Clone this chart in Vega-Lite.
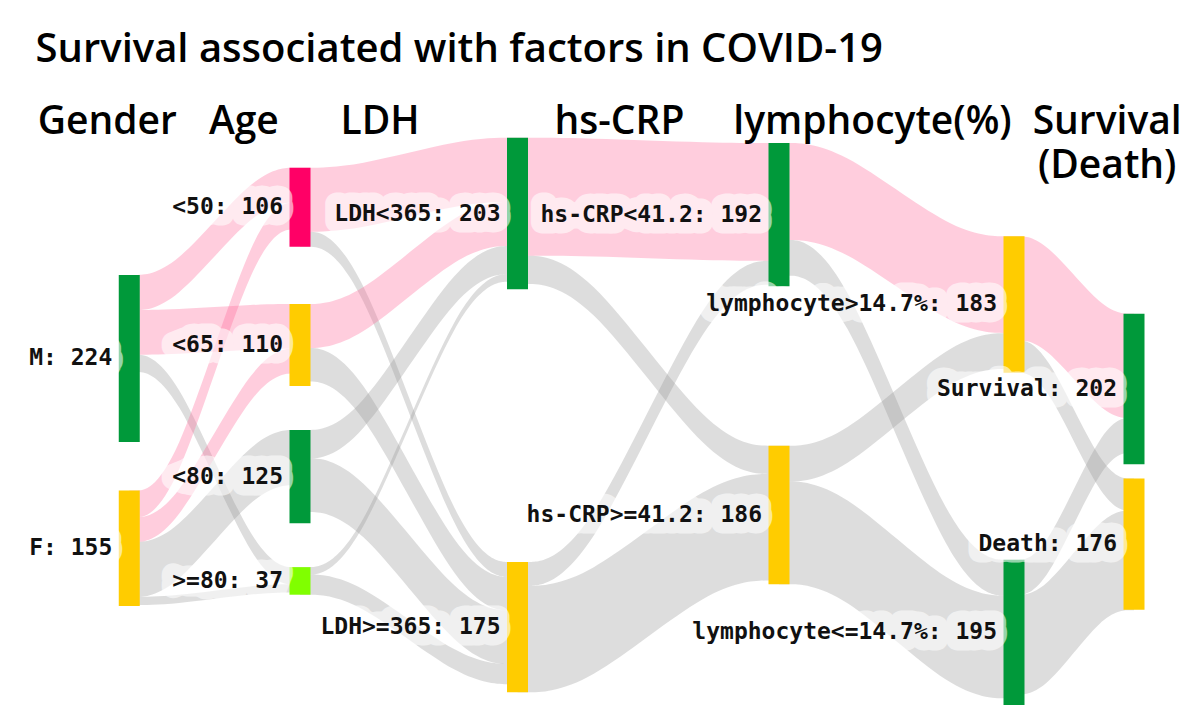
{
  "$schema": "https://vega.github.io/schema/vega-lite/v6.json",
  "width": 1200,
  "height": 708,
  "padding": 0,
  "autosize": {"type": "none"},
  "background": "white",
  "config": {"view": {"stroke": null}},
  "datasets": {
    "links": [
      {"link": "L03", "path": "other", "x": 0, "y0": 291, "y1": 314},
      {"link": "L03", "path": "other", "x": 0.25, "y0": 291, "y1": 314},
      {"link": "L03", "path": "other", "x": 0.75, "y0": 576, "y1": 599},
      {"link": "L03", "path": "other", "x": 1, "y0": 576, "y1": 599},
      {"link": "L06", "path": "other", "x": 0, "y0": 542, "y1": 616},
      {"link": "L06", "path": "other", "x": 0.25, "y0": 542, "y1": 616},
      {"link": "L06", "path": "other", "x": 0.75, "y0": 392, "y1": 466},
      {"link": "L06", "path": "other", "x": 1, "y0": 392, "y1": 466},
      {"link": "L07", "path": "other", "x": 0, "y0": 616, "y1": 627},
      {"link": "L07", "path": "other", "x": 0.25, "y0": 616, "y1": 627},
      {"link": "L07", "path": "other", "x": 0.75, "y0": 599, "y1": 610},
      {"link": "L07", "path": "other", "x": 1, "y0": 599, "y1": 610},
      {"link": "L09", "path": "other", "x": 1, "y0": 126, "y1": 146},
      {"link": "L09", "path": "other", "x": 1.25, "y0": 126, "y1": 146},
      {"link": "L09", "path": "other", "x": 1.75, "y0": 569, "y1": 589},
      {"link": "L09", "path": "other", "x": 2, "y0": 569, "y1": 589},
      {"link": "L11", "path": "other", "x": 1, "y0": 282, "y1": 327},
      {"link": "L11", "path": "other", "x": 1.25, "y0": 282, "y1": 327},
      {"link": "L11", "path": "other", "x": 1.75, "y0": 589, "y1": 634},
      {"link": "L11", "path": "other", "x": 2, "y0": 589, "y1": 634},
      {"link": "L12", "path": "other", "x": 1, "y0": 392, "y1": 430},
      {"link": "L12", "path": "other", "x": 1.25, "y0": 392, "y1": 430},
      {"link": "L12", "path": "other", "x": 1.75, "y0": 145, "y1": 183},
      {"link": "L12", "path": "other", "x": 2, "y0": 145, "y1": 183},
      {"link": "L13", "path": "other", "x": 1, "y0": 430, "y1": 502},
      {"link": "L13", "path": "other", "x": 1.25, "y0": 430, "y1": 502},
      {"link": "L13", "path": "other", "x": 1.75, "y0": 634, "y1": 706},
      {"link": "L13", "path": "other", "x": 2, "y0": 634, "y1": 706},
      {"link": "L14", "path": "other", "x": 1, "y0": 576, "y1": 586},
      {"link": "L14", "path": "other", "x": 1.25, "y0": 576, "y1": 586},
      {"link": "L14", "path": "other", "x": 1.75, "y0": 183, "y1": 193},
      {"link": "L14", "path": "other", "x": 2, "y0": 183, "y1": 193},
      {"link": "L15", "path": "other", "x": 1, "y0": 586, "y1": 613},
      {"link": "L15", "path": "other", "x": 1.25, "y0": 586, "y1": 613},
      {"link": "L15", "path": "other", "x": 1.75, "y0": 706, "y1": 733},
      {"link": "L15", "path": "other", "x": 2, "y0": 706, "y1": 733},
      {"link": "L17", "path": "other", "x": 2, "y0": 158, "y1": 196},
      {"link": "L17", "path": "other", "x": 2.25, "y0": 158, "y1": 196},
      {"link": "L17", "path": "other", "x": 2.75, "y0": 413, "y1": 451},
      {"link": "L17", "path": "other", "x": 3, "y0": 413, "y1": 451},
      {"link": "L18", "path": "other", "x": 2, "y0": 569, "y1": 601},
      {"link": "L18", "path": "other", "x": 2.25, "y0": 569, "y1": 601},
      {"link": "L18", "path": "other", "x": 2.75, "y0": 165, "y1": 197},
      {"link": "L18", "path": "other", "x": 3, "y0": 165, "y1": 197},
      {"link": "L19", "path": "other", "x": 2, "y0": 601, "y1": 744},
      {"link": "L19", "path": "other", "x": 2.25, "y0": 601, "y1": 744},
      {"link": "L19", "path": "other", "x": 2.75, "y0": 451, "y1": 594},
      {"link": "L19", "path": "other", "x": 3, "y0": 451, "y1": 594},
      {"link": "L21", "path": "other", "x": 3, "y0": 137, "y1": 185},
      {"link": "L21", "path": "other", "x": 3.25, "y0": 137, "y1": 185},
      {"link": "L21", "path": "other", "x": 3.75, "y0": 566, "y1": 614},
      {"link": "L21", "path": "other", "x": 4, "y0": 566, "y1": 614},
      {"link": "L22", "path": "other", "x": 3, "y0": 413, "y1": 461},
      {"link": "L22", "path": "other", "x": 3.25, "y0": 413, "y1": 461},
      {"link": "L22", "path": "other", "x": 3.75, "y0": 262, "y1": 310},
      {"link": "L22", "path": "other", "x": 4, "y0": 262, "y1": 310},
      {"link": "L23", "path": "other", "x": 3, "y0": 461, "y1": 599},
      {"link": "L23", "path": "other", "x": 3.25, "y0": 461, "y1": 599},
      {"link": "L23", "path": "other", "x": 3.75, "y0": 614, "y1": 752},
      {"link": "L23", "path": "other", "x": 4, "y0": 614, "y1": 752},
      {"link": "L25", "path": "other", "x": 4, "y0": 272, "y1": 315},
      {"link": "L25", "path": "other", "x": 4.25, "y0": 272, "y1": 315},
      {"link": "L25", "path": "other", "x": 4.75, "y0": 457, "y1": 500},
      {"link": "L25", "path": "other", "x": 5, "y0": 457, "y1": 500},
      {"link": "L26", "path": "other", "x": 4, "y0": 566, "y1": 613},
      {"link": "L26", "path": "other", "x": 4.25, "y0": 566, "y1": 613},
      {"link": "L26", "path": "other", "x": 4.75, "y0": 376, "y1": 423},
      {"link": "L26", "path": "other", "x": 5, "y0": 376, "y1": 423},
      {"link": "L27", "path": "other", "x": 4, "y0": 613, "y1": 747},
      {"link": "L27", "path": "other", "x": 4.25, "y0": 613, "y1": 747},
      {"link": "L27", "path": "other", "x": 4.75, "y0": 500, "y1": 634},
      {"link": "L27", "path": "other", "x": 5, "y0": 500, "y1": 634},
      {"link": "L01", "path": "highlight", "x": 0, "y0": 184, "y1": 231},
      {"link": "L01", "path": "highlight", "x": 0.25, "y0": 184, "y1": 231},
      {"link": "L01", "path": "highlight", "x": 0.75, "y0": 40, "y1": 87},
      {"link": "L01", "path": "highlight", "x": 1, "y0": 40, "y1": 87},
      {"link": "L02", "path": "highlight", "x": 0, "y0": 231, "y1": 291},
      {"link": "L02", "path": "highlight", "x": 0.25, "y0": 231, "y1": 291},
      {"link": "L02", "path": "highlight", "x": 0.75, "y0": 223, "y1": 283},
      {"link": "L02", "path": "highlight", "x": 1, "y0": 223, "y1": 283},
      {"link": "L04", "path": "highlight", "x": 0, "y0": 473, "y1": 509},
      {"link": "L04", "path": "highlight", "x": 0.25, "y0": 473, "y1": 509},
      {"link": "L04", "path": "highlight", "x": 0.75, "y0": 87, "y1": 123},
      {"link": "L04", "path": "highlight", "x": 1, "y0": 87, "y1": 123},
      {"link": "L05", "path": "highlight", "x": 0, "y0": 509, "y1": 542},
      {"link": "L05", "path": "highlight", "x": 0.25, "y0": 509, "y1": 542},
      {"link": "L05", "path": "highlight", "x": 0.75, "y0": 283, "y1": 316},
      {"link": "L05", "path": "highlight", "x": 1, "y0": 283, "y1": 316},
      {"link": "L08", "path": "highlight", "x": 1, "y0": 40, "y1": 126},
      {"link": "L08", "path": "highlight", "x": 1.25, "y0": 40, "y1": 126},
      {"link": "L08", "path": "highlight", "x": 1.75, "y0": 0, "y1": 86},
      {"link": "L08", "path": "highlight", "x": 2, "y0": 0, "y1": 86},
      {"link": "L10", "path": "highlight", "x": 1, "y0": 223, "y1": 282},
      {"link": "L10", "path": "highlight", "x": 1.25, "y0": 223, "y1": 282},
      {"link": "L10", "path": "highlight", "x": 1.75, "y0": 86, "y1": 145},
      {"link": "L10", "path": "highlight", "x": 2, "y0": 86, "y1": 145},
      {"link": "L16", "path": "highlight", "x": 2, "y0": 0, "y1": 158},
      {"link": "L16", "path": "highlight", "x": 2.25, "y0": 0, "y1": 158},
      {"link": "L16", "path": "highlight", "x": 2.75, "y0": 7, "y1": 165},
      {"link": "L16", "path": "highlight", "x": 3, "y0": 7, "y1": 165},
      {"link": "L20", "path": "highlight", "x": 3, "y0": 7, "y1": 137},
      {"link": "L20", "path": "highlight", "x": 3.25, "y0": 7, "y1": 137},
      {"link": "L20", "path": "highlight", "x": 3.75, "y0": 132, "y1": 262},
      {"link": "L20", "path": "highlight", "x": 4, "y0": 132, "y1": 262},
      {"link": "L24", "path": "highlight", "x": 4, "y0": 132, "y1": 272},
      {"link": "L24", "path": "highlight", "x": 4.25, "y0": 132, "y1": 272},
      {"link": "L24", "path": "highlight", "x": 4.75, "y0": 236, "y1": 376},
      {"link": "L24", "path": "highlight", "x": 5, "y0": 236, "y1": 376}
    ],
    "nodes": [
      {"node": "M", "stage": 0, "y0": 184, "y1": 408, "ymid": 296, "label": "M: 224"},
      {"node": "F", "stage": 0, "y0": 473, "y1": 628, "ymid": 550.5, "label": "F: 155"},
      {"node": "<50", "stage": 1, "y0": 40, "y1": 146, "ymid": 93, "label": "<50: 106"},
      {"node": "<65", "stage": 1, "y0": 223, "y1": 333, "ymid": 278, "label": "<65: 110"},
      {"node": "<80", "stage": 1, "y0": 392, "y1": 517, "ymid": 454.5, "label": "<80: 125"},
      {"node": ">=80", "stage": 1, "y0": 576, "y1": 613, "ymid": 594.5, "label": ">=80: 37"},
      {"node": "LDH<365", "stage": 2, "y0": 0, "y1": 203, "ymid": 101.5, "label": "LDH<365: 203"},
      {"node": "LDH>=365", "stage": 2, "y0": 569, "y1": 744, "ymid": 656.5, "label": "LDH>=365: 175"},
      {"node": "hs-CRP<41.2", "stage": 3, "y0": 7, "y1": 199, "ymid": 103, "label": "hs-CRP<41.2: 192"},
      {"node": "hs-CRP>=41.2", "stage": 3, "y0": 413, "y1": 599, "ymid": 506, "label": "hs-CRP>=41.2: 186"},
      {"node": "lymphocyte>14.7%", "stage": 4, "y0": 132, "y1": 315, "ymid": 223.5, "label": "lymphocyte>14.7%: 183"},
      {"node": "lymphocyte<=14.7%", "stage": 4, "y0": 566, "y1": 761, "ymid": 663.5, "label": "lymphocyte<=14.7%: 195"},
      {"node": "Survival", "stage": 5, "y0": 236, "y1": 438, "ymid": 337, "label": "Survival: 202"},
      {"node": "Death", "stage": 5, "y0": 457, "y1": 633, "ymid": 545, "label": "Death: 176"}
    ],
    "title": [
      {"text": "Survival associated with factors in COVID-19", "x": -0.5486, "y": -101.8}
    ],
    "headers": [
      {"text": "Gender", "x": -0.1286, "y": -5.2},
      {"text": "Age", "x": 0.6714, "y": -5.2},
      {"text": "LDH", "x": 1.3678, "y": -5.2},
      {"text": "hs-CRP", "x": 2.3901, "y": -5.2},
      {"text": "lymphocyte(%)", "x": 3.3979, "y": -5.2},
      {"text": "Survival\n(Death)", "x": 4.7765, "y": -5.2}
    ]
  },
  "layer": [
    {
      "data": {"name": "links"},
      "mark": {"type": "area", "interpolate": "basis", "opacity": 0.33},
      "encoding": {
        "x": {"field": "x", "type": "quantitative", "scale": {"domain": [0, 1, 2, 3, 4, 5], "range": [125, 300, 517.5, 779, 1014, 1137], "nice": false, "zero": false}, "axis": null},
        "y": {"field": "y0", "type": "quantitative", "scale": {"domain": [-185, 765], "reverse": true, "nice": false, "zero": false}, "axis": null},
        "y2": {"field": "y1"},
        "detail": {"field": "link", "type": "nominal"},
        "color": {"field": "path", "type": "nominal", "scale": {"domain": ["highlight", "other"], "range": ["#ff6699", "#999999"]}, "legend": null}
      }
    },
    {
      "data": {"name": "nodes"},
      "mark": {"type": "bar", "orient": "vertical", "width": 21},
      "encoding": {
        "x": {"field": "stage", "type": "quantitative", "scale": {"domain": [0, 1, 2, 3, 4, 5], "range": [125, 300, 517.5, 779, 1014, 1137], "nice": false, "zero": false}, "axis": null},
        "y": {"field": "y0", "type": "quantitative", "scale": {"domain": [-185, 765], "reverse": true, "nice": false, "zero": false}, "axis": null},
        "y2": {"field": "y1"},
        "color": {
          "field": "node", "type": "nominal", "legend": null,
          "scale": {
            "domain": ["M", "F", "<50", "<65", "<80", ">=80", "LDH<365", "LDH>=365", "hs-CRP<41.2", "hs-CRP>=41.2", "lymphocyte>14.7%", "lymphocyte<=14.7%", "Survival", "Death"],
            "range": ["#00993a", "#ffcc00", "#ff0066", "#ffcc00", "#00993a", "#80ff00", "#00993a", "#ffcc00", "#00993a", "#ffcc00", "#ffcc00", "#00993a", "#00993a", "#ffcc00"]
          }
        }
      }
    },
    {
      "data": {"name": "nodes"},
      "mark": {"type": "text", "align": "right", "baseline": "middle", "dx": -17, "font": "DejaVu Sans Mono", "fontWeight": "bold", "fontSize": 23, "fill": "white", "stroke": "white", "strokeWidth": 23, "strokeJoin": "round", "opacity": 0.58},
      "encoding": {
        "x": {"field": "stage", "type": "quantitative", "scale": {"domain": [0, 1, 2, 3, 4, 5], "range": [125, 300, 517.5, 779, 1014, 1137], "nice": false, "zero": false}, "axis": null},
        "y": {"field": "ymid", "type": "quantitative", "scale": {"domain": [-185, 765], "reverse": true, "nice": false, "zero": false}, "axis": null},
        "text": {"field": "label", "type": "nominal"}
      }
    },
    {
      "data": {"name": "nodes"},
      "mark": {"type": "text", "align": "right", "baseline": "middle", "dx": -17, "font": "DejaVu Sans Mono", "fontWeight": "bold", "fontSize": 23, "fill": "#111111"},
      "encoding": {
        "x": {"field": "stage", "type": "quantitative", "scale": {"domain": [0, 1, 2, 3, 4, 5], "range": [125, 300, 517.5, 779, 1014, 1137], "nice": false, "zero": false}, "axis": null},
        "y": {"field": "ymid", "type": "quantitative", "scale": {"domain": [-185, 765], "reverse": true, "nice": false, "zero": false}, "axis": null},
        "text": {"field": "label", "type": "nominal"}
      }
    },
    {
      "data": {"name": "title"},
      "mark": {"type": "text", "align": "left", "baseline": "alphabetic", "font": "Open Sans", "fontSize": 40, "fontWeight": 600, "fill": "#000000"},
      "encoding": {
        "x": {"field": "x", "type": "quantitative", "scale": {"domain": [0, 1, 2, 3, 4, 5], "range": [125, 300, 517.5, 779, 1014, 1137], "nice": false, "zero": false}, "axis": null},
        "y": {"field": "y", "type": "quantitative", "scale": {"domain": [-185, 765], "reverse": true, "nice": false, "zero": false}, "axis": null},
        "text": {"field": "text", "type": "nominal"}
      }
    },
    {
      "data": {"name": "headers"},
      "mark": {"type": "text", "align": "center", "baseline": "alphabetic", "lineBreak": "\n", "lineHeight": 44, "font": "Open Sans", "fontSize": 39, "fontWeight": 600, "fill": "#000000"},
      "encoding": {
        "x": {"field": "x", "type": "quantitative", "scale": {"domain": [0, 1, 2, 3, 4, 5], "range": [125, 300, 517.5, 779, 1014, 1137], "nice": false, "zero": false}, "axis": null},
        "y": {"field": "y", "type": "quantitative", "scale": {"domain": [-185, 765], "reverse": true, "nice": false, "zero": false}, "axis": null},
        "text": {"field": "text", "type": "nominal"}
      }
    }
  ],
  "resolve": {"scale": {"color": "independent"}}
}
